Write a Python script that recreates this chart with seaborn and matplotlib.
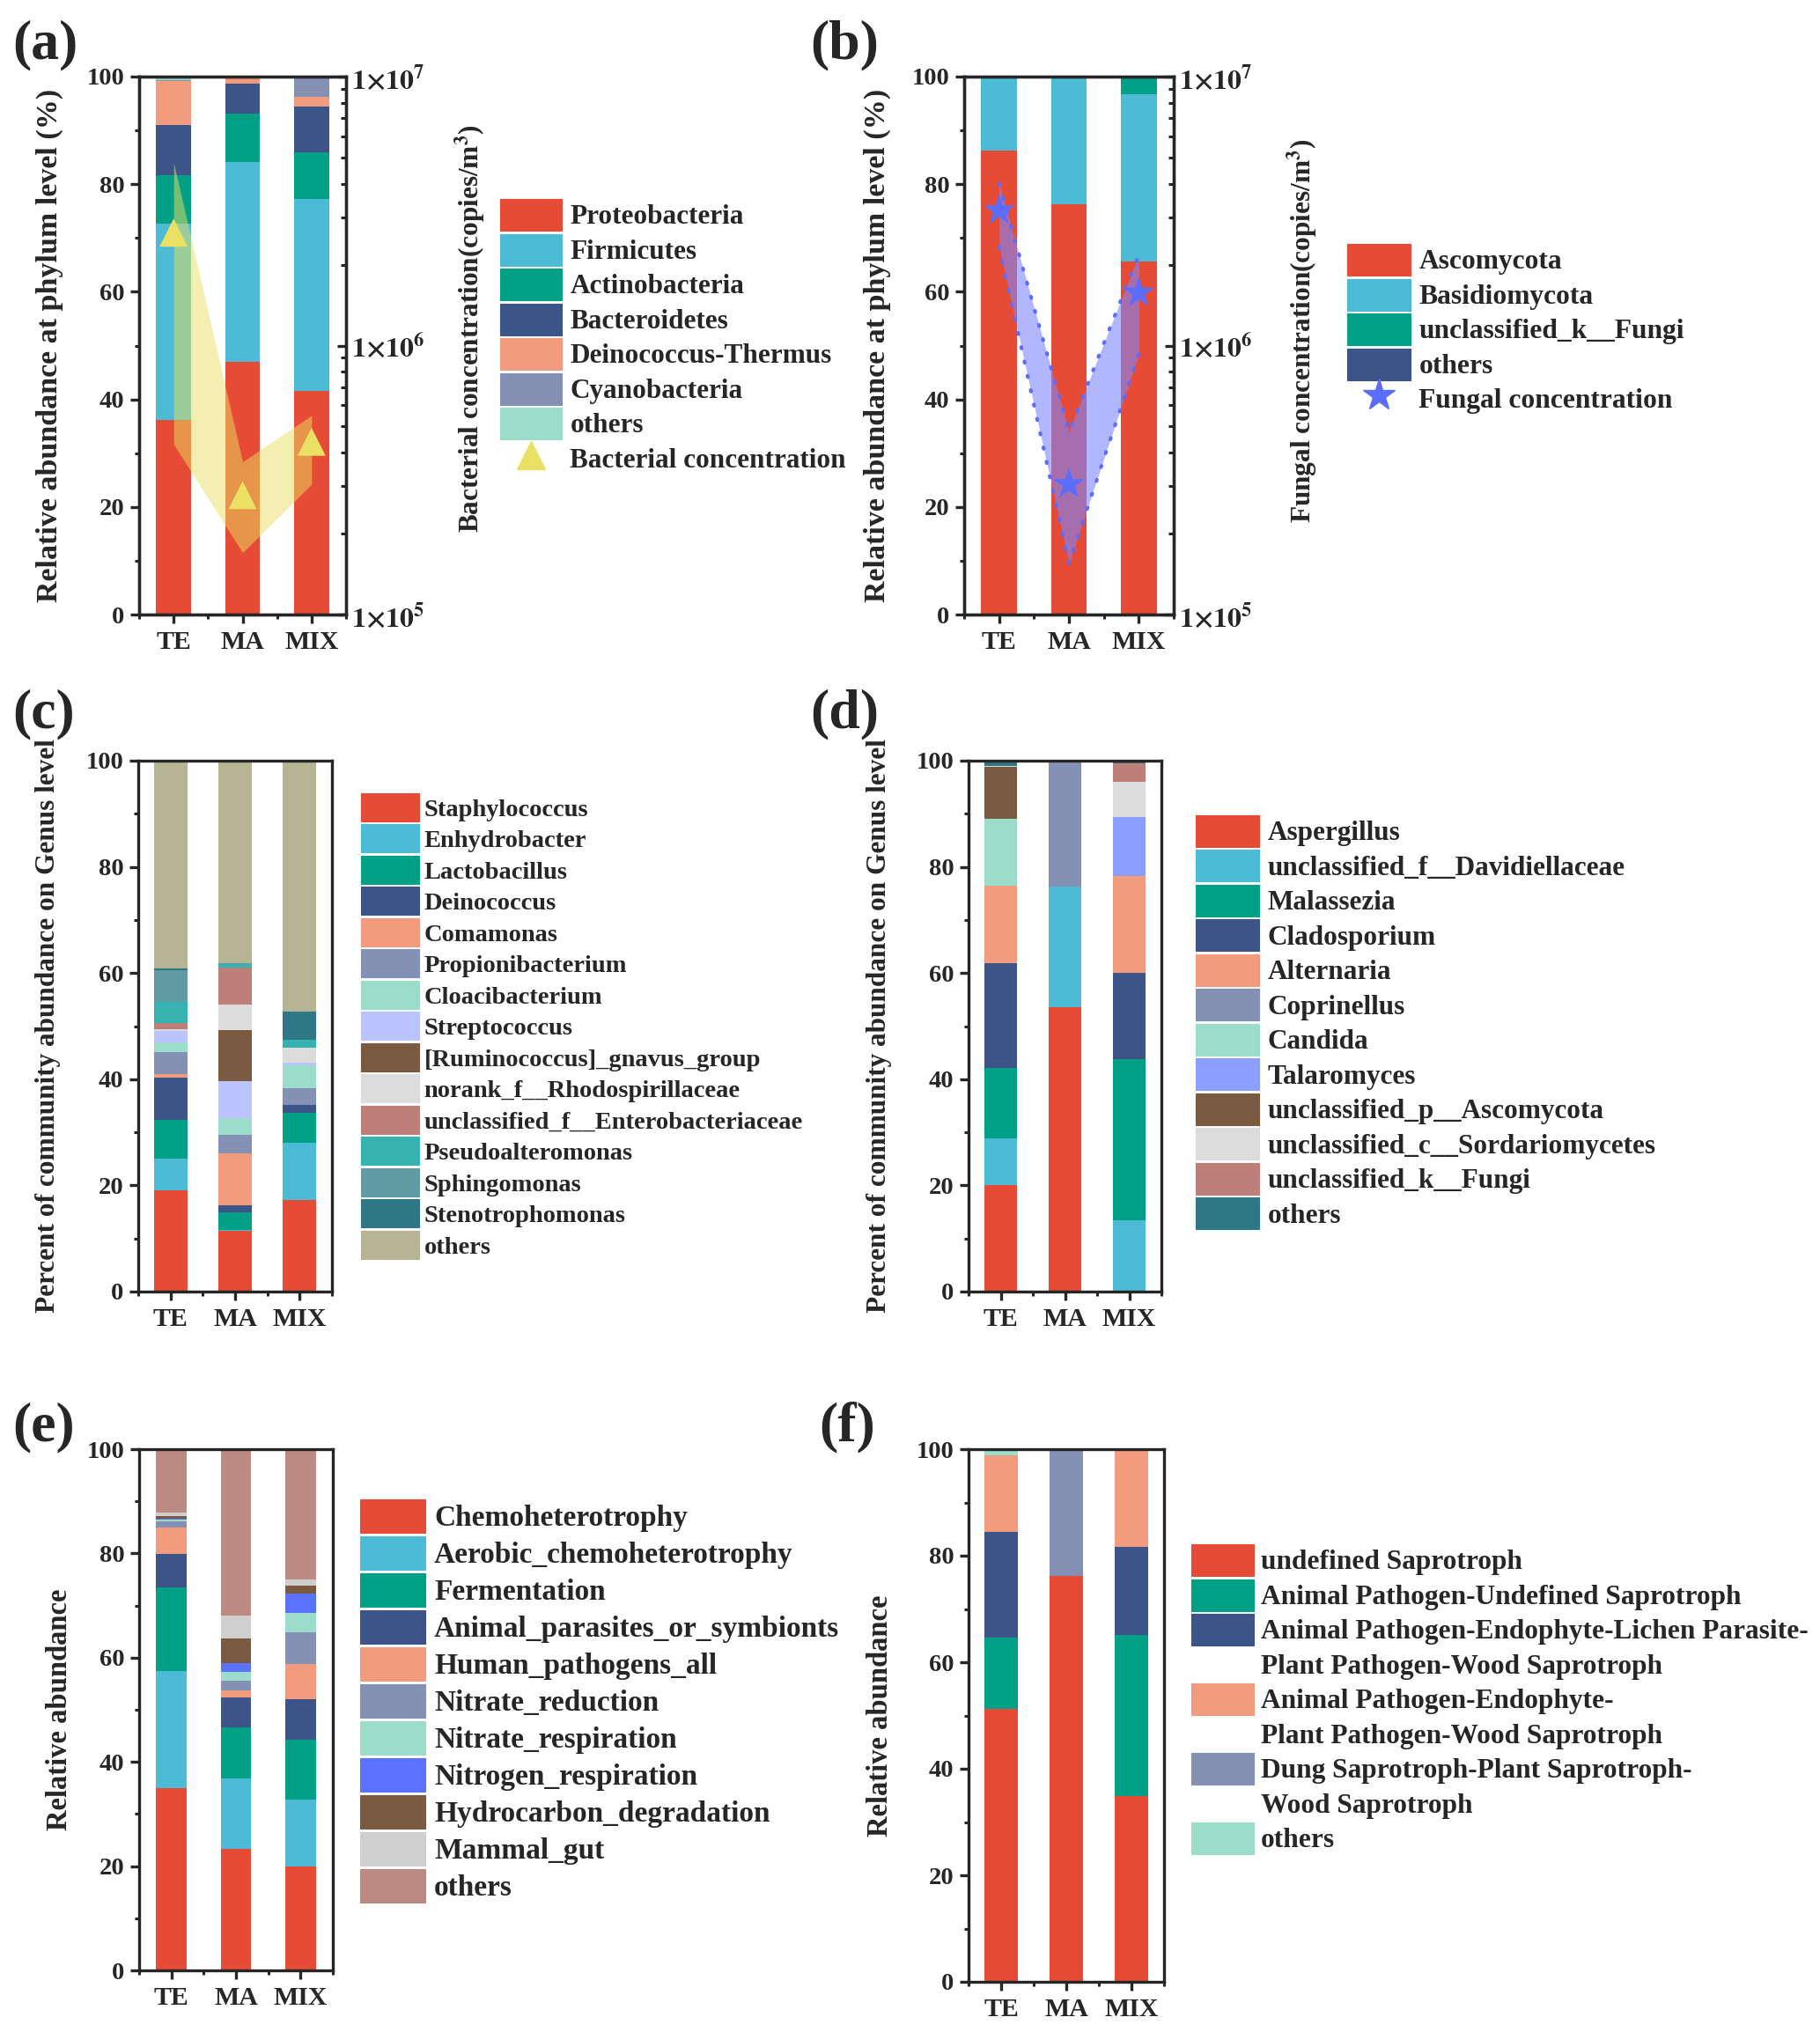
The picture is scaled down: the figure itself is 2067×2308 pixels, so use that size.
import matplotlib
matplotlib.use("Agg")
import matplotlib.pyplot as plt
import numpy as np
import pandas as pd
import seaborn as sns
from matplotlib.lines import Line2D
from matplotlib.patches import Patch
from matplotlib.ticker import AutoMinorLocator, FixedLocator, FuncFormatter, NullFormatter

W, H = 2067, 2308
SAMPLES = ["TE", "MA", "MIX"]

# (a) bacterial phyla (%)
PHYLA = ["Proteobacteria", "Firmicutes", "Actinobacteria", "Bacteroidetes",
         "Deinococcus-Thermus", "Cyanobacteria", "others"]
PHYLA_TE = [36.1, 36.5, 9.1, 9.3, 8.2, 0.2, 0.6]
PHYLA_MA = [47.0, 37.1, 9.0, 5.6, 1.0, 0.0, 0.3]
PHYLA_MIX = [41.6, 35.6, 8.8, 8.4, 1.8, 3.6, 0.2]
BAC_CONC = [2.63e6, 2.78e5, 4.39e5]
BAC_UPPER = [4.8e6, 3.7e5, 5.5e5]
BAC_LOWER = [4.3e5, 1.7e5, 3.05e5]

# (b) fungal phyla (%)
FPHYLA = ["Ascomycota", "Basidiomycota", "unclassified_k__Fungi", "others"]
FPHYLA_TE = [86.3, 13.7, 0.0, 0.0]
FPHYLA_MA = [76.3, 23.7, 0.0, 0.0]
FPHYLA_MIX = [65.7, 31.0, 3.3, 0.0]
FUN_CONC = [3.18e6, 3.05e5, 1.57e6]
FUN_UPPER = [4.0e6, 4.8e5, 2.17e6]
FUN_LOWER = [2.33e6, 1.55e5, 9.3e5]

# (c) bacterial genera (%)
GENERA = ["Staphylococcus", "Enhydrobacter", "Lactobacillus", "Deinococcus", "Comamonas",
          "Propionibacterium", "Cloacibacterium", "Streptococcus", "[Ruminococcus]_gnavus_group",
          "norank_f__Rhodospirillaceae", "unclassified_f__Enterobacteriaceae",
          "Pseudoalteromonas", "Sphingomonas", "Stenotrophomonas", "others"]
GENERA_TE = [19.1, 6.0, 7.3, 7.9, 0.7, 4.1, 1.8, 2.2, 0.0, 0.3, 1.1, 4.0, 6.1, 0.3, 39.1]
GENERA_MA = [11.5, 0.1, 3.4, 1.2, 9.9, 3.4, 3.1, 7.0, 9.6, 4.8, 7.1, 0.6, 0.1, 0.1, 38.1]
GENERA_MIX = [17.3, 10.7, 5.7, 1.5, 0.0, 3.1, 4.3, 0.6, 0.0, 2.7, 0.0, 1.5, 0.0, 5.4, 47.2]

# (d) fungal genera (%)
FGENERA = ["Aspergillus", "unclassified_f__Davidiellaceae", "Malassezia", "Cladosporium",
           "Alternaria", "Coprinellus", "Candida", "Talaromyces", "unclassified_p__Ascomycota",
           "unclassified_c__Sordariomycetes", "unclassified_k__Fungi", "others"]
FGENERA_TE = [20.0, 8.8, 13.3, 19.8, 14.5, 0.0, 12.6, 0.0, 9.8, 0.2, 0.0, 1.0]
FGENERA_MA = [53.5, 22.8, 0.0, 0.0, 0.0, 23.7, 0.0, 0.0, 0.0, 0.0, 0.0, 0.0]
FGENERA_MIX = [0.0, 13.5, 30.2, 16.4, 18.2, 0.0, 0.0, 11.1, 0.0, 6.6, 3.5, 0.5]

# (e) bacterial functions (%)
FUNCS = ["Chemoheterotrophy", "Aerobic_chemoheterotrophy", "Fermentation",
         "Animal_parasites_or_symbionts", "Human_pathogens_all", "Nitrate_reduction",
         "Nitrate_respiration", "Nitrogen_respiration", "Hydrocarbon_degradation",
         "Mammal_gut", "others"]
FUNCS_TE = [35.0, 22.4, 16.1, 6.4, 5.1, 1.2, 0.3, 0.2, 0.5, 0.7, 12.1]
FUNCS_MA = [23.3, 13.5, 9.9, 5.7, 1.3, 1.8, 1.7, 1.7, 4.7, 4.5, 31.9]
FUNCS_MIX = [20.0, 12.8, 11.4, 7.8, 6.7, 6.1, 3.8, 3.7, 1.6, 1.1, 25.0]

# (f) fungal guilds (%)
GUILDS = ["undefined Saprotroph", "Animal Pathogen-Undefined Saprotroph",
          "Animal Pathogen-Endophyte-Lichen Parasite-\nPlant Pathogen-Wood Saprotroph",
          "Animal Pathogen-Endophyte-\nPlant Pathogen-Wood Saprotroph",
          "Dung Saprotroph-Plant Saprotroph-\nWood Saprotroph", "others"]
GUILDS_TE = [51.3, 13.3, 19.9, 14.4, 0.0, 1.1]
GUILDS_MA = [76.2, 0.0, 0.0, 0.0, 23.8, 0.0]
GUILDS_MIX = [34.9, 30.3, 16.4, 18.4, 0.0, 0.0]

RED, SKY, GREEN, NAVY = "#E64B35", "#4DBBD5", "#00A087", "#3C5488"
SALMON, SLATE, MINT = "#F39B7F", "#8491B4", "#9CDCCB"
PHYLA_COLORS = [RED, SKY, GREEN, NAVY, SALMON, SLATE, MINT]
FPHYLA_COLORS = [RED, SKY, GREEN, NAVY]
GENERA_COLORS = [RED, SKY, GREEN, NAVY, SALMON, SLATE, MINT, "#BCC4FF", "#7A5A40",
                 "#DCDCDC", "#BC8078", "#36B3B0", "#609BA3", "#2E7786", "#B5B596"]
FGENERA_COLORS = [RED, SKY, GREEN, NAVY, SALMON, SLATE, MINT, "#8C9EFF", "#7A5A40",
                  "#DCDCDC", "#BC8078", "#2E7786"]
FUNCS_COLORS = [RED, SKY, GREEN, NAVY, SALMON, SLATE, MINT, "#5B72FF", "#7A5A40",
                "#CFCFCF", "#BC8A82"]
GUILDS_COLORS = [RED, GREEN, NAVY, SALMON, SLATE, MINT]

sns.set_style("ticks")
plt.rcParams["font.family"] = ["Liberation Serif", "DejaVu Serif"]
plt.rcParams["font.weight"] = "bold"
plt.rcParams["axes.labelweight"] = "bold"
plt.rcParams["mathtext.fontset"] = "stix"
plt.rcParams["axes.linewidth"] = 2.4

fig = plt.figure(figsize=(W / 100, H / 100), dpi=100)


def px_axes(left, top, right, bottom):
    return fig.add_axes([left / W, 1 - bottom / H, (right - left) / W, (bottom - top) / H])


def stacked(ax, taxa, rows, colors, width=0.52):
    df = pd.DataFrame(rows, index=SAMPLES, columns=taxa)
    cum = df.cumsum(axis=1)
    # draw the tallest cumulative bar first, smaller ones on top of it
    for name, color in reversed(list(zip(taxa, colors))):
        sns.barplot(x=SAMPLES, y=cum[name].values, color=color, width=width,
                    saturation=1, linewidth=0, errorbar=None, ax=ax)


def style(ax, ylabel, label_x, label_fs):
    ax.set_xlim(-0.5, 2.5)
    ax.set_ylim(0, 100)
    ax.set_yticks([0, 20, 40, 60, 80, 100])
    ax.yaxis.set_minor_locator(AutoMinorLocator(2))
    ax.xaxis.set_minor_locator(FixedLocator([-0.5, 0.5, 1.5, 2.5]))
    ax.tick_params(which="major", direction="out", length=7, width=2.4, pad=5)
    ax.tick_params(which="minor", direction="out", length=3.5, width=2.2)
    ax.tick_params(axis="y", labelsize=20.5)
    ax.tick_params(axis="x", labelsize=21.5, pad=6)
    for lab in ax.get_xticklabels() + ax.get_yticklabels():
        lab.set_fontweight("bold")
    for sp in ax.spines.values():
        sp.set_visible(True)
        sp.set_linewidth(2.4)
    ax.set_xlabel("")
    ax.set_ylabel(ylabel, fontsize=label_fs, fontweight="bold")
    ax.yaxis.set_label_coords(label_x, 0.5)


def conc_axis(ax, ylabel, label_x, label_y):
    ax2 = ax.twinx()
    ax2.set_yscale("log")
    ax2.set_ylim(1e5, 1e7)
    ax2.yaxis.set_major_formatter(FuncFormatter(lambda v, p: r"$1{\times}10^{%d}$" % round(np.log10(v))))
    ax2.yaxis.set_minor_formatter(NullFormatter())
    ax2.tick_params(which="major", direction="in", length=7, width=2.4, labelsize=23, pad=4)
    ax2.tick_params(which="minor", direction="in", length=4, width=2.2)
    for sp in ax2.spines.values():
        sp.set_linewidth(2.4)
    ax2.set_ylabel(ylabel, fontsize=22.5, fontweight="bold")
    ax2.yaxis.set_label_coords(label_x, label_y)
    return ax2


def legend(labels, colors, left, top, fs, hl_px, hh_px, gap_px, pad=0.3, extra=None):
    handles, texts = [], []
    for lab, col in zip(labels, colors):
        for i, line in enumerate(lab.split("\n")):
            if i == 0:
                handles.append(Patch(facecolor=col, edgecolor=col, linewidth=0.8))
            else:
                handles.append(Patch(facecolor="none", edgecolor="none"))
            texts.append(line)
    if extra is not None:
        handles.append(extra[0])
        texts.append(extra[1])
    em = fs * 100 / 72
    # matplotlib's patch height is fontsize * (0.65 * handleheight + 0.245)
    hh = (hh_px / em - 0.245) / 0.65
    fig.legend(handles, texts, loc="upper left", bbox_to_anchor=(left / W, 1 - top / H),
               bbox_transform=fig.transFigure, frameon=False, borderpad=0, borderaxespad=0,
               handlelength=hl_px / em, handleheight=hh, labelspacing=gap_px / em,
               handletextpad=pad, prop={"weight": "bold", "size": fs})


def panel_letter(text, x, y):
    fig.text(x / W, 1 - y / H, text, fontsize=46, fontweight="bold", ha="left", va="baseline")


X = [0, 1, 2]

# (a)
ax = px_axes(158, 87, 393, 698)
stacked(ax, PHYLA, [PHYLA_TE, PHYLA_MA, PHYLA_MIX], PHYLA_COLORS, 0.51)
style(ax, "Relative abundance at phylum level (%)", -0.366, 24.5)
ax2 = conc_axis(ax, r"Bacterial concentration(copies/m$^{\mathbf{3}}$)", 1.515, 0.532)
ax2.fill_between(X, BAC_LOWER, BAC_UPPER, color="#EAE063", alpha=0.5, linewidth=0)
sns.scatterplot(x=X, y=BAC_CONC, marker="^", s=23 ** 2, color="#EAE063", edgecolor="none",
                legend=False, ax=ax2, zorder=5)
ax.set_xlim(-0.5, 2.5)
legend(PHYLA, PHYLA_COLORS, 568, 226, 22.5, 70, 36, 3.5,
       extra=(Line2D([], [], marker="^", ls="none", color="#EAE063", markersize=23),
              "Bacterial concentration"))

# (b)
ax = px_axes(1095, 87, 1333, 698)
stacked(ax, FPHYLA, [FPHYLA_TE, FPHYLA_MA, FPHYLA_MIX], FPHYLA_COLORS, 0.51)
style(ax, "Relative abundance at phylum level (%)", -0.349, 24.5)
ax2 = conc_axis(ax, r"Fungal concentration(copies/m$^{\mathbf{3}}$)", 1.53, 0.527)
ax2.fill_between(X, FUN_LOWER, FUN_UPPER, color="#7C86FF", alpha=0.6, linewidth=0)
for edge in (FUN_UPPER, FUN_LOWER):
    ax2.plot(X, edge, ls=(0, (0.4, 3.6)), lw=3, color="#5B6CFF", dash_capstyle="round")
sns.scatterplot(x=X, y=FUN_CONC, marker="*", s=27 ** 2, color="#5B6CFF", edgecolor="none",
                legend=False, ax=ax2, zorder=5)
ax.set_xlim(-0.5, 2.5)
legend(FPHYLA, FPHYLA_COLORS, 1530, 277, 22.7, 72, 36, 3.5,
       extra=(Line2D([], [], marker="*", ls="none", color="#5B6CFF", markersize=27),
              "Fungal concentration"))

# (c)
ax = px_axes(157, 864, 377, 1467)
stacked(ax, GENERA, [GENERA_TE, GENERA_MA, GENERA_MIX], GENERA_COLORS)
style(ax, "Percent of community abundance on Genus level", -0.40, 22.5)
legend(GENERA, GENERA_COLORS, 410, 901, 20.5, 66, 32, 3.5, pad=0.2)

# (d)
ax = px_axes(1100, 864, 1319, 1467)
stacked(ax, FGENERA, [FGENERA_TE, FGENERA_MA, FGENERA_MIX], FGENERA_COLORS)
style(ax, "Percent of community abundance on Genus level", -0.397, 22.5)
legend(FGENERA, FGENERA_COLORS, 1358, 926, 22.5, 72, 36, 3.5)

# (e)
ax = px_axes(158, 1646, 378, 2238)
stacked(ax, FUNCS, [FUNCS_TE, FUNCS_MA, FUNCS_MIX], FUNCS_COLORS, 0.47)
style(ax, "Relative abundance", -0.34, 23.5)
legend(FUNCS, FUNCS_COLORS, 409, 1703, 24, 74, 38, 4)

# (f)
ax = px_axes(1100, 1646, 1322, 2251)
stacked(ax, GUILDS, [GUILDS_TE, GUILDS_MA, GUILDS_MIX], GUILDS_COLORS)
style(ax, "Relative abundance", -0.383, 23.5)
legend(GUILDS, GUILDS_COLORS, 1353, 1754, 22.6, 71, 36, 3.5, pad=0.25)

panel_letter("(a)", 14, 66)
panel_letter("(b)", 920, 66)
panel_letter("(c)", 14, 826)
panel_letter("(d)", 920, 826)
panel_letter("(e)", 14, 1636)
panel_letter("(f)", 930, 1636)

fig.savefig("out.png", dpi=100)
